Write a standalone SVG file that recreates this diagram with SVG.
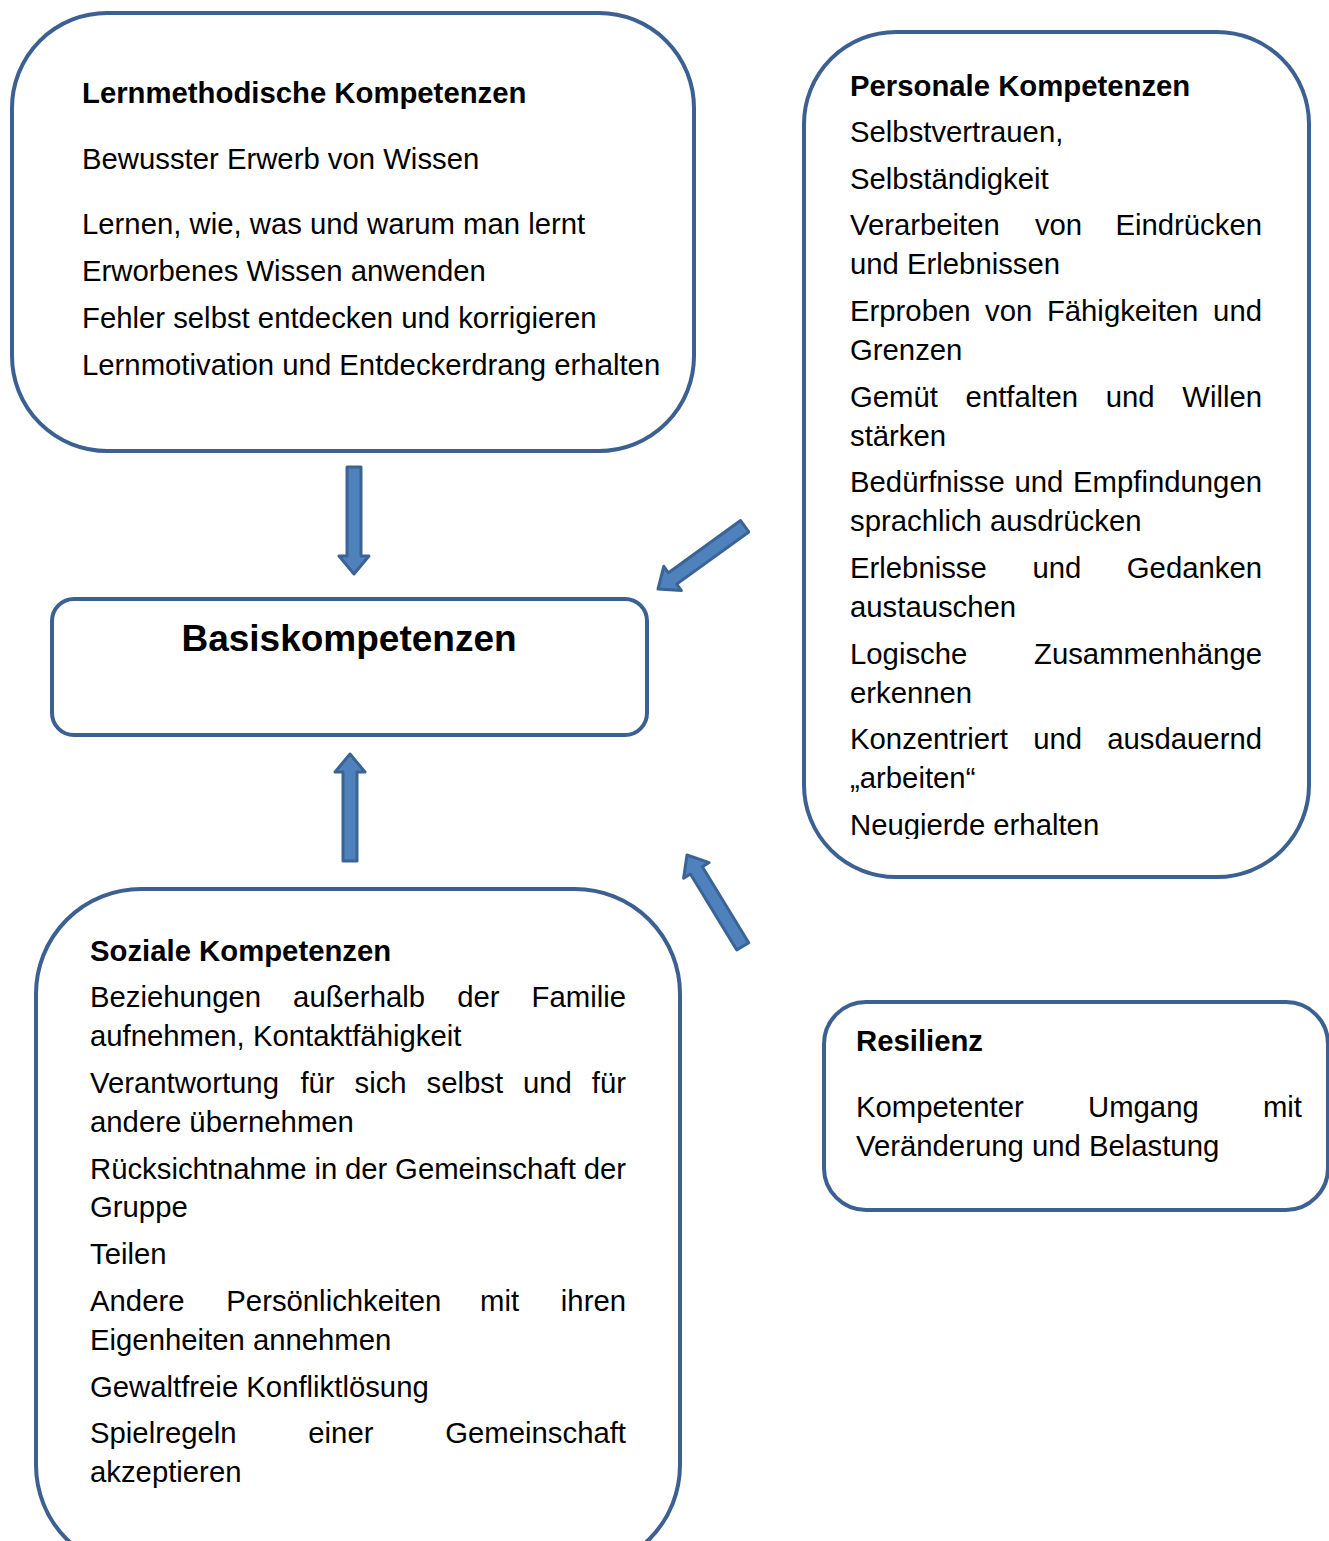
<svg xmlns="http://www.w3.org/2000/svg" width="1329" height="1541" viewBox="0 0 1329 1541">
<style>
.box{fill:#ffffff;stroke:#3C6091;stroke-width:4}
.t{font-family:"Liberation Sans",Arial,sans-serif;font-size:29.3px;fill:#000}
.b{font-weight:bold}
.e{text-anchor:end}
.arrow{fill:#4F81BD;stroke:#3A6496;stroke-width:3;stroke-linejoin:round}
</style>
<defs>
<path id="arr" d="M-107,-7 L-18,-7 L-18,-15 L0,0 L-18,15 L-18,7 L-107,7 Z"/>
<clipPath id="pclip"><rect x="800" y="0" width="529" height="839"/></clipPath>
</defs>
<rect width="1329" height="1541" fill="#ffffff"/>

<g id="lernmethodisch">
<rect class="box" x="12" y="13" width="682" height="438" rx="95" ry="95"/>
<text class="t b" x="82" y="103">Lernmethodische Kompetenzen</text>
<text class="t" x="82" y="169">Bewusster Erwerb von Wissen</text>
<text class="t" x="82" y="234">Lernen, wie, was und warum man lernt</text>
<text class="t" x="82" y="281">Erworbenes Wissen anwenden</text>
<text class="t" x="82" y="328">Fehler selbst entdecken und korrigieren</text>
<text class="t" x="82" y="375">Lernmotivation und Entdeckerdrang erhalten</text>
</g>

<g id="personal">
<rect class="box" x="804" y="32" width="505" height="845" rx="92" ry="92"/>
<g clip-path="url(#pclip)">
<text class="t b" x="850" y="96">Personale Kompetenzen</text>
<text class="t" x="850" y="142">Selbstvertrauen,</text>
<text class="t" x="850" y="189">Selbständigkeit</text>
<text class="t" y="235"><tspan x="850">Verarbeiten</tspan><tspan x="1034.9">von</tspan></text>
<text class="t e" x="1262" y="235">Eindrücken</text>
<text class="t" x="850" y="274">und Erlebnissen</text>
<text class="t" y="321"><tspan x="850">Erproben</tspan><tspan x="985.1">von</tspan><tspan x="1046.9">Fähigkeiten</tspan></text>
<text class="t e" x="1262" y="321">und</text>
<text class="t" x="850" y="360">Grenzen</text>
<text class="t" y="407"><tspan x="850">Gemüt</tspan><tspan x="965.6">entfalten</tspan><tspan x="1105.7">und</tspan></text>
<text class="t e" x="1262" y="407">Willen</text>
<text class="t" x="850" y="446">stärken</text>
<text class="t" y="492"><tspan x="850">Bedürfnisse</tspan><tspan x="1014.5">und</tspan></text>
<text class="t e" x="1262" y="492">Empfindungen</text>
<text class="t" x="850" y="531">sprachlich ausdrücken</text>
<text class="t" y="578"><tspan x="850">Erlebnisse</tspan><tspan x="1032.4">und</tspan></text>
<text class="t e" x="1262" y="578">Gedanken</text>
<text class="t" x="850" y="617">austauschen</text>
<text class="t" x="850" y="664">Logische</text>
<text class="t e" x="1262" y="664">Zusammenhänge</text>
<text class="t" x="850" y="703">erkennen</text>
<text class="t" y="749"><tspan x="850">Konzentriert</tspan><tspan x="1033.2">und</tspan></text>
<text class="t e" x="1262" y="749">ausdauernd</text>
<text class="t" x="850" y="788">„arbeiten“</text>
<text class="t" x="850" y="835">Neugierde erhalten</text>
</g>
</g>

<g id="basis">
<rect class="box" x="52" y="599" width="595" height="136" rx="22" ry="22"/>
<text class="t b" x="349" y="651" style="font-size:37px" text-anchor="middle">Basiskompetenzen</text>
</g>

<g id="sozial">
<rect class="box" x="36" y="889" width="644" height="681" rx="105" ry="105"/>
<text class="t b" x="90" y="961">Soziale Kompetenzen</text>
<text class="t" y="1007"><tspan x="90">Beziehungen</tspan><tspan x="293.1">außerhalb</tspan><tspan x="457.2">der</tspan></text>
<text class="t e" x="626" y="1007">Familie</text>
<text class="t" x="90" y="1046">aufnehmen, Kontaktfähigkeit</text>
<text class="t" y="1093"><tspan x="90">Verantwortung</tspan><tspan x="300.4">für</tspan><tspan x="354.5">sich</tspan><tspan x="426.5">selbst</tspan><tspan x="522.9">und</tspan></text>
<text class="t e" x="626" y="1093">für</text>
<text class="t" x="90" y="1132">andere übernehmen</text>
<text class="t" y="1179"><tspan x="90">Rücksichtnahme</tspan><tspan x="314.4">in</tspan><tspan x="345">der</tspan><tspan x="395.1">Gemeinschaft</tspan></text>
<text class="t e" x="626" y="1179">der</text>
<text class="t" x="90" y="1217">Gruppe</text>
<text class="t" x="90" y="1264">Teilen</text>
<text class="t" y="1311"><tspan x="90">Andere</tspan><tspan x="226.3">Persönlichkeiten</tspan><tspan x="480.1">mit</tspan></text>
<text class="t e" x="626" y="1311">ihren</text>
<text class="t" x="90" y="1350">Eigenheiten annehmen</text>
<text class="t" x="90" y="1397">Gewaltfreie Konfliktlösung</text>
<text class="t" y="1443"><tspan x="90">Spielregeln</tspan><tspan x="308.3">einer</tspan></text>
<text class="t e" x="626" y="1443">Gemeinschaft</text>
<text class="t" x="90" y="1482">akzeptieren</text>
</g>

<g id="resilienz">
<rect class="box" x="824" y="1002" width="504" height="208" rx="42" ry="42"/>
<text class="t b" x="856" y="1051">Resilienz</text>
<text class="t" y="1117"><tspan x="856">Kompetenter</tspan><tspan x="1088">Umgang</tspan></text>
<text class="t e" x="1302" y="1117">mit</text>
<text class="t" x="856" y="1156">Veränderung und Belastung</text>
</g>

<g id="connectors">
<use href="#arr" class="arrow" transform="translate(354,574) rotate(90)"/>
<use href="#arr" class="arrow" transform="translate(350,754) rotate(-90)"/>
<use href="#arr" class="arrow" transform="translate(658,589) rotate(144.1)"/>
<use href="#arr" class="arrow" transform="translate(687,855) rotate(-121.4)"/>
</g>
</svg>
